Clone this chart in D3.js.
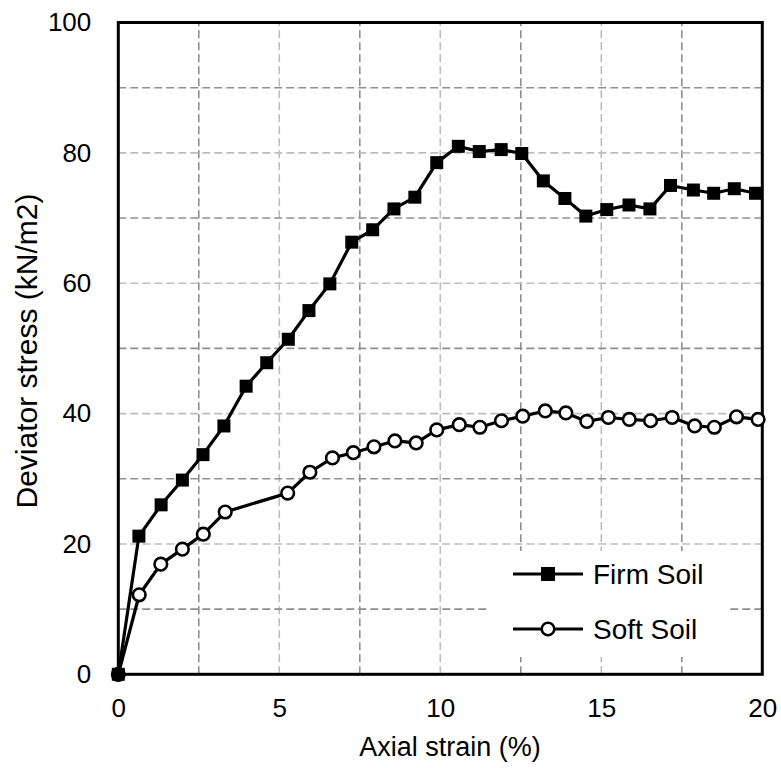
<!DOCTYPE html>
<html lang="en">
<head>
    <meta charset="UTF-8">
    <title>Deviator stress vs axial strain</title>
    <script src="https://d3js.org/d3.v7.min.js"></script>
    <style>
        body { margin: 0; background: #fff; }
        text { font-family: Arial, "Liberation Sans", sans-serif; fill: #000; }
    </style>
</head>
<body>
    <svg width="781" height="768"></svg>

    <script>
        // data
        const firmStrain = [0, 0.64, 1.33, 1.99, 2.63, 3.28, 3.97, 4.61, 5.28, 5.92, 6.57, 7.25, 7.90, 8.56, 9.21, 9.89,
            10.56, 11.21, 11.89, 12.53, 13.2, 13.87, 14.52, 15.17, 15.86, 16.51, 17.15, 17.86, 18.49, 19.13, 19.79];
        const firmStress = [0, 21.2, 26.0, 29.8, 33.7, 38.1, 44.2, 47.8, 51.4, 55.8, 59.9, 66.3, 68.2, 71.4, 73.2, 78.5,
            81.0, 80.2, 80.5, 79.9, 75.7, 73.0, 70.3, 71.3, 72.0, 71.4, 75.0, 74.3, 73.8, 74.5, 73.8];
        const softStrain = [0, 0.65, 1.32, 1.99, 2.64, 3.32, 5.26, 5.95, 6.65, 7.30, 7.94, 8.59, 9.25, 9.89,
            10.59, 11.23, 11.9, 12.56, 13.26, 13.9, 14.55, 15.22, 15.87, 16.53, 17.2, 17.9, 18.51, 19.2, 19.87];
        const softStress = [0, 12.2, 16.9, 19.2, 21.5, 24.9, 27.8, 31.0, 33.2, 34.0, 34.9, 35.8, 35.5, 37.5,
            38.3, 37.9, 38.9, 39.6, 40.4, 40.1, 38.8, 39.4, 39.1, 38.9, 39.4, 38.1, 37.9, 39.5, 39.1];
        const xTicks = [0, 5, 10, 15, 20];
        const yTicks = [0, 20, 40, 60, 80, 100];
        const seriesNames = ["Firm Soil", "Soft Soil"];

        const svg = d3.select("svg");

        const x = d3.scaleLinear().domain([0, 20]).range([118.3, 762.3]);
        const y = d3.scaleLinear().domain([0, 100]).range([674.3, 22.5]);

        // gridlines, every 2.5 on x and 10 on y
        const grid = svg.append("g");
        d3.range(2.5, 20, 2.5).forEach(v => {
            grid.append("line")
                .attr("x1", x(v)).attr("x2", x(v))
                .attr("y1", y(0)).attr("y2", y(100))
                .attr("stroke", v % 5 === 0 ? "#bdbdbd" : "#8f8f8f")
                .attr("stroke-width", 1.6)
                .attr("stroke-dasharray", "8,4");
        });
        d3.range(10, 100, 10).forEach(v => {
            grid.append("line")
                .attr("x1", x(0)).attr("x2", x(20))
                .attr("y1", y(v)).attr("y2", y(v))
                .attr("stroke", v % 20 === 0 ? "#bdbdbd" : "#8f8f8f")
                .attr("stroke-width", 1.6)
                .attr("stroke-dasharray", "8,4");
        });

        // legend box hides grid behind it
        svg.append("rect")
            .attr("x", 487).attr("y", 551)
            .attr("width", 240).attr("height", 106)
            .attr("fill", "#fff");

        // plot frame
        svg.append("rect")
            .attr("x", x(0)).attr("y", y(100))
            .attr("width", x(20) - x(0)).attr("height", y(0) - y(100))
            .attr("fill", "none")
            .attr("stroke", "#000")
            .attr("stroke-width", 3);

        // axes (labels only)
        const xAxis = svg.append("g")
            .attr("transform", `translate(0,${y(0)})`)
            .call(d3.axisBottom(x).tickValues(xTicks).tickSize(0).tickPadding(24).tickFormat(d3.format("d")));
        const yAxis = svg.append("g")
            .attr("transform", `translate(${x(0)},0)`)
            .call(d3.axisLeft(y).tickValues(yTicks).tickSize(0).tickPadding(27).tickFormat(d3.format("d")));
        [xAxis, yAxis].forEach(a => {
            a.select(".domain").remove();
            a.selectAll("text")
                .attr("font-size", 26)
                .attr("font-family", "Arial, 'Liberation Sans', sans-serif")
                .attr("fill", "#000");
        });

        // axis titles
        svg.append("text")
            .attr("x", 450).attr("y", 756)
            .attr("text-anchor", "middle")
            .attr("font-size", 27)
            .text("Axial strain (%)");
        svg.append("text")
            .attr("transform", "translate(37,351) rotate(-90)")
            .attr("text-anchor", "middle")
            .attr("font-size", 30)
            .text("Deviator stress (kN/m2)");

        const line = d3.line().x(d => x(d[0])).y(d => y(d[1]));

        // firm soil
        const firmData = firmStrain.map((v, i) => [v, firmStress[i]]);
        svg.append("path")
            .datum(firmData)
            .attr("d", line)
            .attr("fill", "none")
            .attr("stroke", "#000")
            .attr("stroke-width", 3.2)
            .attr("stroke-linejoin", "round");
        svg.selectAll(".firmPt")
            .data(firmData)
            .enter().append("rect")
            .attr("class", "firmPt")
            .attr("x", d => x(d[0]) - 6.5)
            .attr("y", d => y(d[1]) - 6.5)
            .attr("width", 13).attr("height", 13)
            .attr("fill", "#000");

        // soft soil
        const softData = softStrain.map((v, i) => [v, softStress[i]]);
        svg.append("path")
            .datum(softData)
            .attr("d", line)
            .attr("fill", "none")
            .attr("stroke", "#000")
            .attr("stroke-width", 3.2)
            .attr("stroke-linejoin", "round");
        svg.selectAll(".softPt")
            .data(softData)
            .enter().append("circle")
            .attr("class", "softPt")
            .attr("cx", d => x(d[0]))
            .attr("cy", d => y(d[1]))
            .attr("r", 6.3)
            .attr("fill", d => d[1] === 0 ? "#000" : "#fff")
            .attr("stroke", "#000")
            .attr("stroke-width", 2.6);

        // legend
        const legY = [574, 629];
        seriesNames.forEach((name, i) => {
            svg.append("line")
                .attr("x1", 513).attr("x2", 583)
                .attr("y1", legY[i]).attr("y2", legY[i])
                .attr("stroke", "#000")
                .attr("stroke-width", 3.2);
            if (i === 0) {
                svg.append("rect")
                    .attr("x", 548 - 7).attr("y", legY[i] - 7)
                    .attr("width", 14).attr("height", 14)
                    .attr("fill", "#000");
            } else {
                svg.append("circle")
                    .attr("cx", 548).attr("cy", legY[i])
                    .attr("r", 6.3)
                    .attr("fill", "#fff")
                    .attr("stroke", "#000")
                    .attr("stroke-width", 2.6);
            }
            svg.append("text")
                .attr("x", 593).attr("y", legY[i])
                .attr("dy", "0.36em")
                .attr("font-size", 28)
                .text(name);
        });
    </script>
</body>
</html>
